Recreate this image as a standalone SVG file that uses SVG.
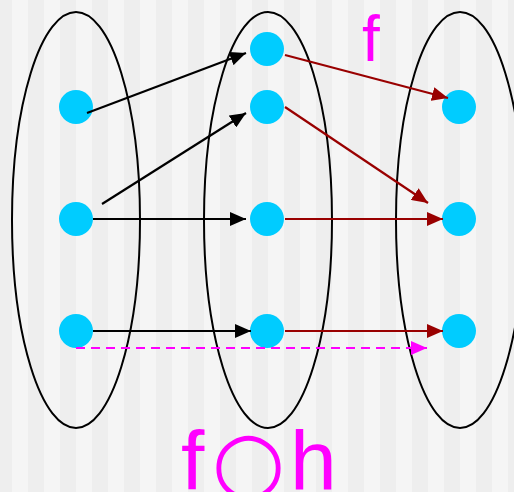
<svg xmlns="http://www.w3.org/2000/svg" width="514" height="492" viewBox="0 0 514 492">
<defs>
<pattern id="stripes" patternUnits="userSpaceOnUse" x="-4" y="0" width="32" height="492">
<rect x="0" y="0" width="16" height="492" fill="#eeeeee"/>
<rect x="16" y="0" width="16" height="492" fill="#f5f5f5"/>
</pattern>
<marker id="ab" markerUnits="userSpaceOnUse" markerWidth="16" markerHeight="14" refX="16" refY="7" orient="auto">
<path d="M0,0 L16,7 L0,14 Z" fill="#000000"/>
</marker>
<marker id="ar" markerUnits="userSpaceOnUse" markerWidth="16" markerHeight="14" refX="16" refY="7" orient="auto">
<path d="M0,0 L16,7 L0,14 Z" fill="#990000"/>
</marker>
<marker id="am" markerUnits="userSpaceOnUse" markerWidth="16" markerHeight="14" refX="16" refY="7" orient="auto">
<path d="M0,0 L16,7 L0,14 Z" fill="#ff00ff"/>
</marker>
</defs>
<style>
.set{fill:none;stroke:#000;stroke-width:2}
.node{fill:#00ccff}
.blk{stroke:#000;stroke-width:2.2;fill:none;marker-end:url(#ab)}
.red{stroke:#990000;stroke-width:2.2;fill:none;marker-end:url(#ar)}
.mag{stroke:#ff00ff;stroke-width:2.2;fill:none;stroke-dasharray:9,6;marker-end:url(#am)}
.lbl{fill:#ff00ff;font-family:"Liberation Sans","DejaVu Sans",sans-serif}
</style>
<rect x="0" y="0" width="514" height="492" fill="url(#stripes)"/>
<g id="sets">
<ellipse id="setA" class="set" cx="76" cy="220" rx="64" ry="208"/>
<ellipse id="setB" class="set" cx="268" cy="220" rx="64" ry="208"/>
<ellipse id="setC" class="set" cx="460" cy="220" rx="64" ry="208"/>
</g>
<g id="a1"><circle class="node" cx="76" cy="107" r="17"/></g>
<g id="a2"><circle class="node" cx="76" cy="219" r="17"/></g>
<g id="a3"><circle class="node" cx="76" cy="331" r="17"/></g>
<g id="b1"><circle class="node" cx="267" cy="49" r="17"/></g>
<g id="b2"><circle class="node" cx="267" cy="107" r="17"/></g>
<g id="b3"><circle class="node" cx="267" cy="219" r="17"/></g>
<g id="b4"><circle class="node" cx="267" cy="331" r="17"/></g>
<g id="c1"><circle class="node" cx="459" cy="107" r="17"/></g>
<g id="c2"><circle class="node" cx="459" cy="219" r="17"/></g>
<g id="c3"><circle class="node" cx="459" cy="331" r="17"/></g>
<g id="connectors">
<line class="blk" x1="87" y1="113" x2="246" y2="53"/>
<line class="blk" x1="102" y1="204" x2="246" y2="113"/>
<line class="blk" x1="93" y1="219" x2="246" y2="219"/>
<line class="blk" x1="93" y1="331" x2="251" y2="331"/>
<line class="red" x1="285" y1="55" x2="448" y2="98"/>
<line class="red" x1="285" y1="107" x2="428" y2="203"/>
<line class="red" x1="285" y1="219" x2="443" y2="219"/>
<line class="red" x1="285" y1="331" x2="443" y2="331"/>
<line class="mag" x1="76" y1="348" x2="427" y2="348"/>
</g>
<g id="labels">
<text class="lbl" x="362" y="61" font-size="64">f</text>
<text class="lbl" x="181" y="490" font-size="84">f<tspan x="212" font-family="'DejaVu Sans',sans-serif">○</tspan><tspan x="290">h</tspan></text>
</g>
</svg>
